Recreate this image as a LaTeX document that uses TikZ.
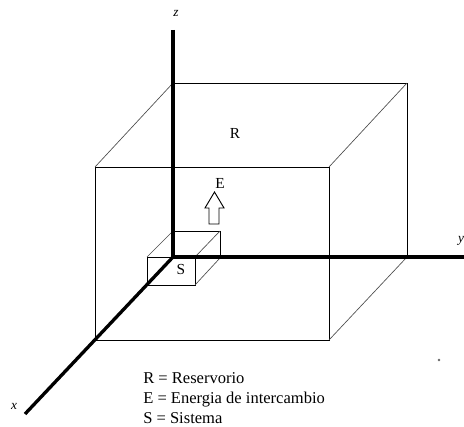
\documentclass[tikz,border=0pt]{standalone}
\usepackage{fontspec}
\setmainfont{Liberation Serif}
\usetikzlibrary{positioning}

\tikzset{
  axis/.style={line width=2.5pt, black},
  edge/.style={line width=0.6pt, black},
  depth/.style={line width=0.5pt, black!70},
  axislabel/.style={font=\fontsize{10}{12}\selectfont\itshape},
  boxlabel/.style={font=\fontsize{11.5}{13}\selectfont},
  legend/.style={font=\fontsize{12.4}{15}\selectfont, anchor=base west, inner sep=0pt},
}

\begin{document}
\begin{tikzpicture}[x=0.75pt,y=-0.75pt]
  \useasboundingbox (0,0) rectangle (464,427);

  % Reservoir (big box): back face and front face
  \coordinate (RbTL) at (173,83);  \coordinate (RbTR) at (407,83);
  \coordinate (RbBR) at (407,257); \coordinate (RbBL) at (173,257);
  \coordinate (RfTL) at (95,167);  \coordinate (RfTR) at (329,167);
  \coordinate (RfBR) at (329,340); \coordinate (RfBL) at (95,340);
  \draw[edge] (RbTL) -- (RbTR) -- (RbBR);
  \draw[edge] (RfTL) -- (RfTR) -- (RfBR) -- (RfBL) -- cycle;
  \foreach \c in {TL,TR,BR}
    \draw[depth] (Rb\c) -- (Rf\c);

  % System (small box)
  \coordinate (SbTL) at (173,231); \coordinate (SbTR) at (220,231);
  \coordinate (SbBR) at (220,258);
  \coordinate (SfTL) at (147,257); \coordinate (SfTR) at (195,257);
  \coordinate (SfBR) at (195,285); \coordinate (SfBL) at (147,285);
  \draw[edge] (SbTL) -- (SbTR) -- (SbBR);
  \draw[edge] (SfTL) -- (SfTR) -- (SfBR) -- (SfBL) -- cycle;
  \foreach \c in {TL,TR,BR}
    \draw[depth] (Sb\c) -- (Sf\c);

  % Axes
  \coordinate (O) at (173,257);
  \coordinate (zend) at (173,30);
  \coordinate (yend) at (464,257);
  \coordinate (xend) at (25,414);
  \draw[axis] (zend) -- (O);
  \draw[axis] (O) -- (yend);
  \draw[axis] (O) -- (xend);
  \node[axislabel] (zlab) at (176,13) {z};
  \node[axislabel] (ylab) at (461,241) {y};
  \node[axislabel] (xlab) at (14,406) {x};

  % Energy arrow (hollow block arrow)
  \draw[edge, line width=0.7pt] (209,224) -- (219,224) -- (219,208) -- (224,208)
    -- (214.5,192) -- (205,208) -- (209,208) -- cycle;

  % Labels
  \node[boxlabel] (Rlab) at (235,133) {R};
  \node[boxlabel] (Elab) at (220,183) {E};
  \node[boxlabel] (Slab) at (181,270) {S};

  % Legend
  \foreach \y/\txt [count=\i] in {384/R = Reservorio, 404/E = Energia de intercambio, 424/S = Sistema}
    \node[legend] (leg\i) at (143,\y) {\txt};

  \fill[black!60] (439,360) circle (1pt);
\end{tikzpicture}
\end{document}
